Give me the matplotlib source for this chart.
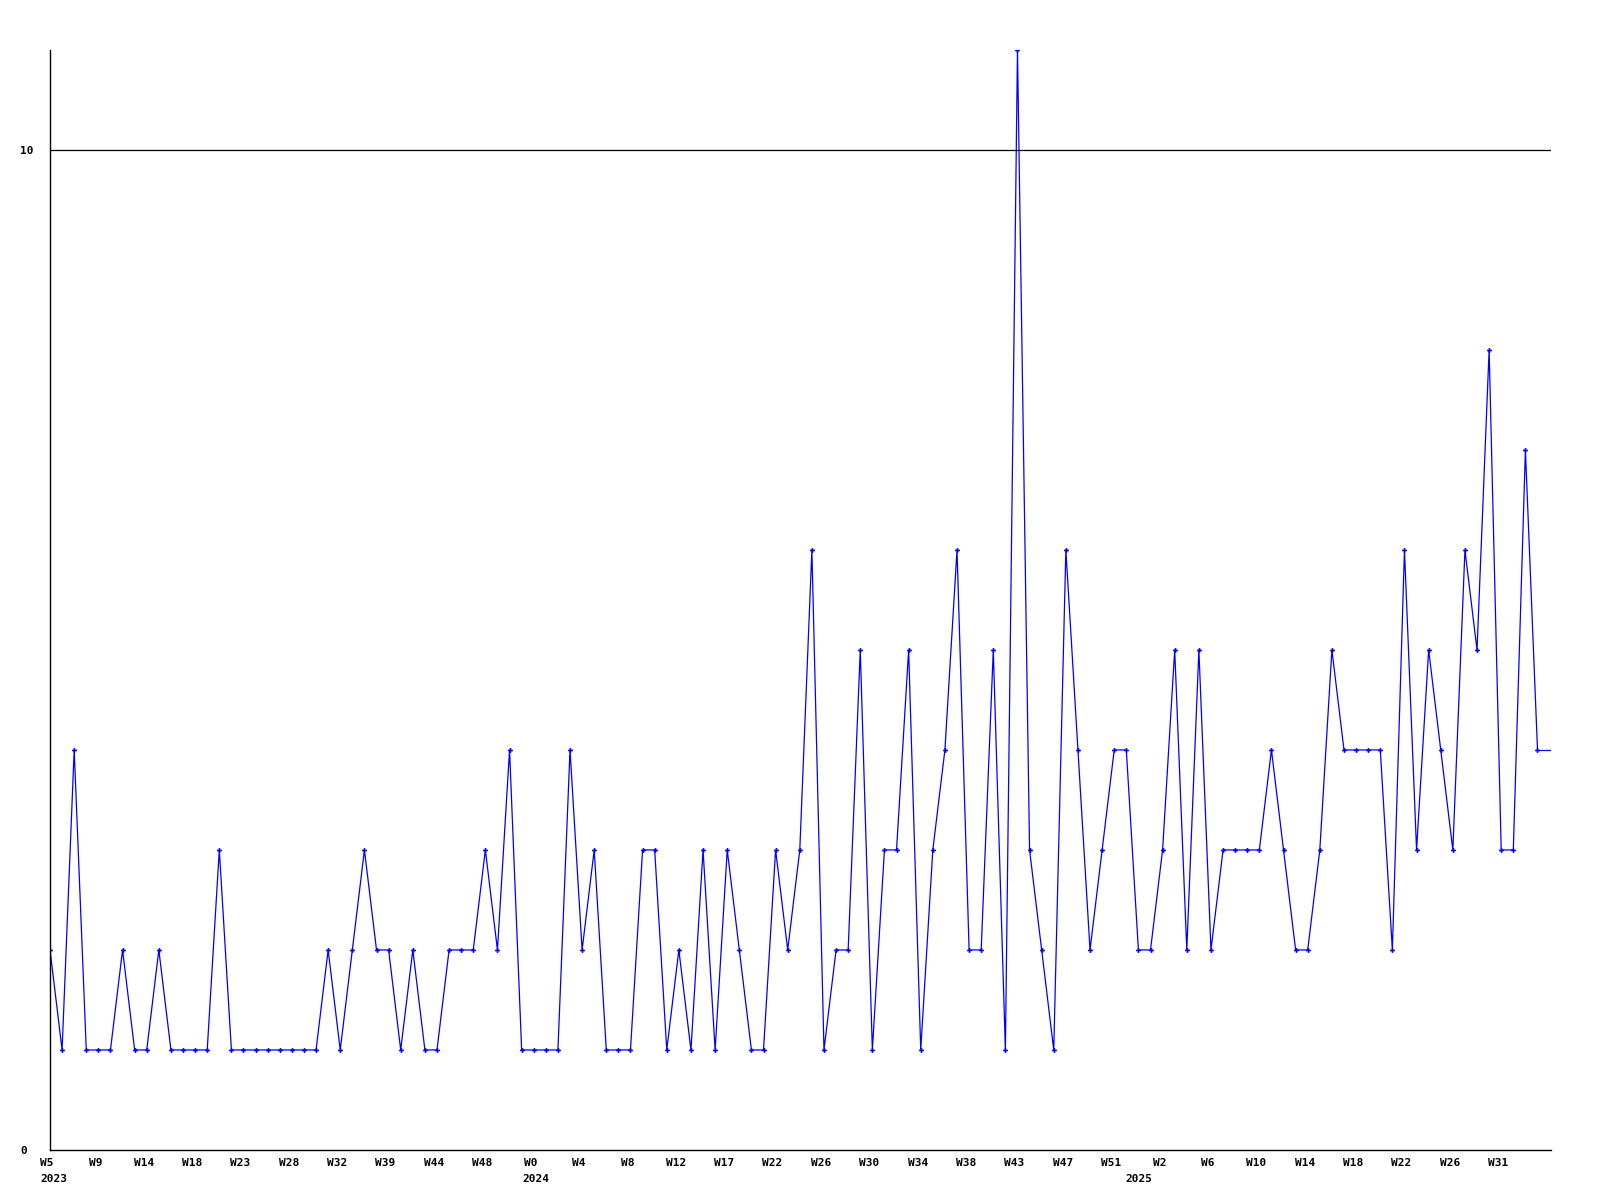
import matplotlib
matplotlib.use("Agg")
import matplotlib.pyplot as plt
from matplotlib.transforms import ScaledTranslation

# weekly counts (one point per week, starting W5 2023)
counts = [2, 1, 4, 1, 1, 1, 2, 1, 1, 2, 1, 1, 1, 1, 3, 1, 1, 1, 1, 1,
          1, 1, 1, 2, 1, 2, 3, 2, 2, 1, 2, 1, 1, 2, 2, 2, 3, 2, 4, 1,
          1, 1, 1, 4, 2, 3, 1, 1, 1, 3, 3, 1, 2, 1, 3, 1, 3, 2, 1, 1,
          3, 2, 3, 6, 1, 2, 2, 5, 1, 3, 3, 5, 1, 3, 4, 6, 2, 2, 5, 1,
          11, 3, 2, 1, 6, 4, 2, 3, 4, 4, 2, 2, 3, 5, 2, 5, 2, 3, 3, 3,
          3, 4, 3, 2, 2, 3, 5, 4, 4, 4, 4, 2, 6, 3, 5, 4, 3, 6, 5, 8,
          3, 3, 7, 4]

week_labels = ["W5", "W9", "W14", "W18", "W23", "W28", "W32", "W39", "W44", "W48",
               "W0", "W4", "W8", "W12", "W17", "W22", "W26", "W30", "W34", "W38",
               "W43", "W47", "W51", "W2", "W6", "W10", "W14", "W18", "W22", "W26",
               "W31"]
label_step = 4

years = ["2023", "2024", "2025"]
year_pos = [0.3, 40.2, 90.0]

y_ticks = [0, 10]

font = dict(family="DejaVu Sans Mono", fontsize=8, fontweight="bold")

fig = plt.figure(figsize=(16, 12), dpi=100)
ax = fig.add_axes([0.03125, 0.0417, 0.938, 0.9167])

x = list(range(len(counts)))
x_right = x[-1] + 1.1

ax.plot(x, counts, color="#0000ff", linewidth=0.9,
        marker="P", markersize=3.5, markeredgewidth=0)
# line carries on flat to the right edge
ax.plot([x[-1], x_right], [counts[-1], counts[-1]], color="#0000ff", linewidth=0.9)

ax.set_xlim(0, x_right)
ax.set_ylim(0, max(counts))

ax.axhline(10, color="black", linewidth=0.9, zorder=0)

for side in ["top", "right"]:
    ax.spines[side].set_visible(False)
for side in ["left", "bottom"]:
    ax.spines[side].set_linewidth(1)
    ax.spines[side].set_color("black")

ax.set_yticks(y_ticks)
ax.set_yticklabels([str(t) for t in y_ticks], **font)
for lab in ax.get_yticklabels():
    lab.set_horizontalalignment("left")
ax.tick_params(axis="y", length=0, pad=21.6)

ax.set_xticks(x[::label_step][:len(week_labels)])
ax.set_xticklabels(week_labels, **font)
ax.tick_params(axis="x", length=0, pad=5.5)
# week labels sit a few pixels left of their point
shift = ScaledTranslation(-3 / 100, 0, fig.dpi_scale_trans)
for lab in ax.get_xticklabels():
    lab.set_transform(lab.get_transform() + shift)

for yr, pos in zip(years, year_pos):
    ax.annotate(yr, xy=(pos, 0), xycoords=("data", "axes fraction"),
                xytext=(0, -21), textcoords="offset points",
                ha="center", va="center", **font)

fig.savefig("out.png", dpi=100)
